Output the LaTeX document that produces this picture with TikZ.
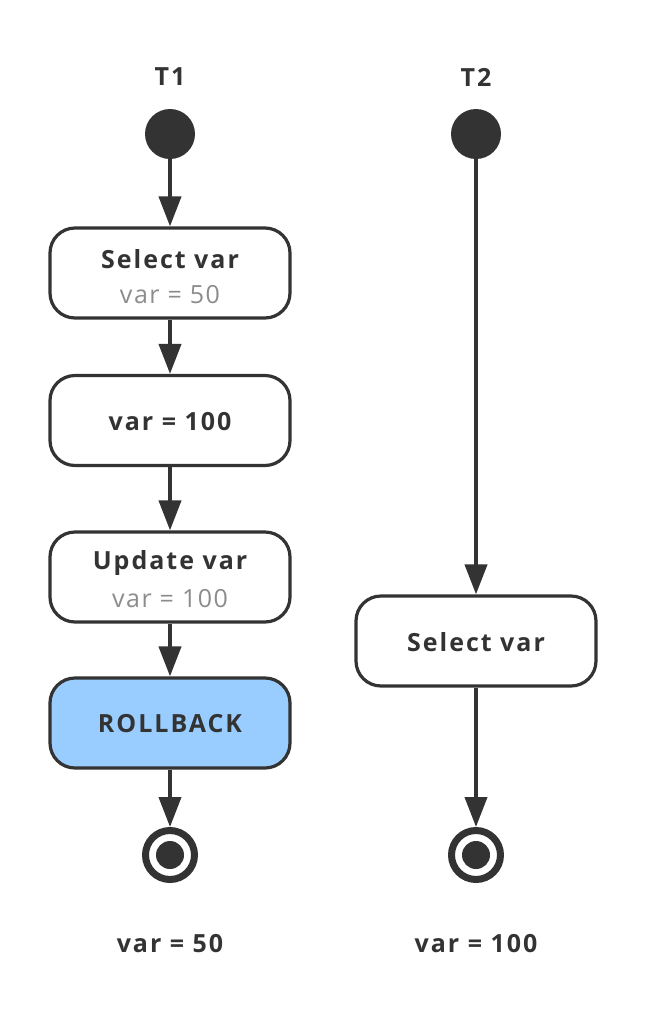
\documentclass[tikz,border=0pt]{standalone}
\usepackage{fontspec}
\setmainfont{Open Sans}
\newfontfamily\spaced{Open Sans}[LetterSpace=8]
\newfontfamily\spacedsoft{Open Sans}[LetterSpace=6]
\usetikzlibrary{arrows.meta}
\definecolor{ink}{HTML}{333333}
\definecolor{soft}{HTML}{8C8C8C}
\definecolor{rbfill}{HTML}{99CCFF}
\begin{document}
\begin{tikzpicture}[x=1pt,y=-1pt,
  stepbox/.style={draw=ink,line width=3.2pt,rounded corners=25pt,minimum width=240pt,minimum height=90pt,fill=white,inner sep=0pt},
  title/.style={text=ink,font=\spaced\fontsize{25}{30}\selectfont\bfseries,inner sep=0pt},
  sub/.style={text=soft,font=\spacedsoft\fontsize{25}{30}\selectfont,inner sep=0pt},
  startdot/.style={circle,fill=ink,minimum size=50pt,inner sep=0pt},
  flow/.style={draw=ink,line width=4pt,-{Triangle[length=30pt,width=22pt]}}]
\fill[white] (0,0) rectangle (646,1018);
\useasboundingbox (0,0) rectangle (646,1018);
% column labels
\node[title] (t1) at (170,77) {T1};
\node[title] (t2) at (476,77) {T2};
% T1
\node[startdot] (s1) at (170,134) {};
\node[stepbox] (b1) at (170,273) {};
\node[title] (b1t) at (170,259) {Select var};
\node[sub] (b1s) at (170,295) {var = 50};
\node[stepbox] (b2) at (170,420.5) {};
\node[title] (b2t) at (170,422) {var = 100};
\node[stepbox] (b3) at (170,577) {};
\node[title] (b3t) at (170,563) {Update var};
\node[sub] (b3s) at (170,599) {var = 100};
\node[stepbox,fill=rbfill] (b4) at (170,723) {};
\node[title] (b4t) at (170,724) {ROLLBACK};
\node[circle,draw=ink,line width=7pt,minimum size=49pt,inner sep=0pt] (e1) at (170,855) {};
\fill[ink] (e1.center) circle (14pt);
\node[title] (r1) at (170,944) {var = 50};
% T2
\node[startdot] (s2) at (476,134) {};
\node[stepbox] (b5) at (476,641) {};
\node[title] (b5t) at (476,642) {Select var};
\node[circle,draw=ink,line width=7pt,minimum size=49pt,inner sep=0pt] (e2) at (476,855) {};
\fill[ink] (e2.center) circle (14pt);
\node[title] (r2) at (476,944) {var = 100};
% connectors
\draw[flow] (s1) -- (b1);
\draw[flow] (b1) -- (b2);
\draw[flow] (b2) -- (b3);
\draw[flow] (b3) -- (b4);
\draw[flow] (b4) -- (e1);
\draw[flow] (s2) -- (b5);
\draw[flow] (b5) -- (e2);
\end{tikzpicture}
\end{document}
